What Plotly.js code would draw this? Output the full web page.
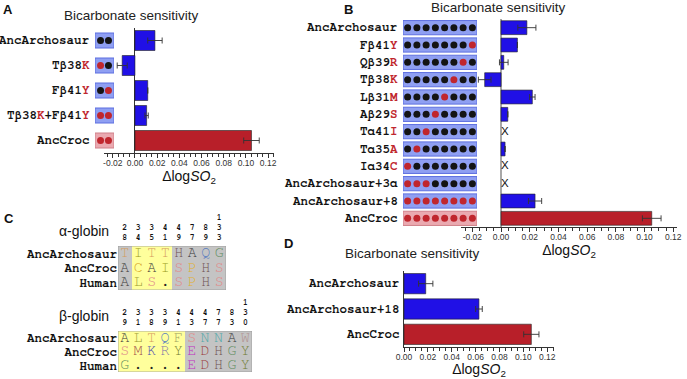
<!DOCTYPE html>
<html>
<head>
<meta charset="utf-8">
<script src="https://cdn.plot.ly/plotly-3.0.1.min.js"></script>
<style>html,body{margin:0;padding:0;background:#fff;}#chart{width:687px;height:379px;}</style>
</head>
<body>
<div id="chart"></div>
<script>
// ---------------- DATA ----------------
// Panel A
const aLabels = ['AncArchosaur', 'Tβ38[K]', 'Fβ41[Y]', 'Tβ38[K]+Fβ41[Y]', 'AncCroc'];
const aValues = [0.018, -0.0115, 0.0115, 0.0105, 0.105];
const aErrors = [0.0065, 0.0045, null, 0.0015, 0.007];
const aDots   = [[0, 0], [1, 0], [0, 1], [1, 1], [1, 1]];   // 1 = AncCroc residue (red)
// Panel B
const bLabels = ['AncArchosaur', 'Fβ41[Y]', 'Qβ39[R]', 'Tβ38[K]', 'Lβ31[M]', 'Aβ29[S]',
                 'Tα41[I]', 'Tα35[A]', 'Iα34[C]', 'AncArchosaur+3α', 'AncArchosaur+8', 'AncCroc'];
const bValues = [0.018, 0.0114, 0.0019, -0.0114, 0.0218, 0.0047, null, 0.0028, null, null, 0.0237, 0.105];
const bErrors = [0.0063, null, 0.003, 0.0044, 0.0019, null, null, null, null, null, 0.0046, 0.0065];
const bDots = [
  [0,0,0,0,0,0,0,0],
  [0,0,0,0,0,0,0,1],
  [0,0,0,0,0,0,1,0],
  [0,0,0,0,0,1,0,0],
  [0,0,0,0,1,0,0,0],
  [0,0,0,1,0,0,0,0],
  [0,0,1,0,0,0,0,0],
  [0,1,0,0,0,0,0,0],
  [1,0,0,0,0,0,0,0],
  [1,1,1,0,0,0,0,0],
  [1,1,1,1,1,1,1,1],
  [1,1,1,1,1,1,1,1]
];
// Panel D
const dLabels = ['AncArchosaur', 'AncArchosaur+18', 'AncCroc'];
const dValues = [0.0182, 0.0628, 0.1067];
const dErrors = [0.006, 0.0028, 0.0064];
// Axis ticks
const abTickValues = [-0.02, 0, 0.02, 0.04, 0.06, 0.08, 0.10, 0.12];
const abTickLabels = ['-0.02', '0.00', '0.02', '0.04', '0.06', '0.08', '0.10', '0.12'];
const dTickValues = [0, 0.02, 0.04, 0.06, 0.08, 0.10, 0.12];
const dTickLabels = ['0.00', '0.02', '0.04', '0.06', '0.08', '0.10', '0.12'];
// Panel C
const seqRows = ['AncArchosaur', 'AncCroc', 'Human'];
const alphaPositions = [28, 34, 35, 41, 49, 77, 89, 133];
const alphaSeqs = ['TITTHAQG', 'ACAISPHS', 'ALS.SPHS'];
const alphaYellow = [0, 1, 1, 1, 0, 0, 0, 0];
const betaPositions = [29, 31, 38, 39, 41, 43, 47, 77, 83, 130];
const betaSeqs = ['ALTQFSNNAW', 'SMKRYEDHGY', 'G....EDHGY'];
const betaYellow = [1, 1, 1, 1, 1, 0, 0, 0, 0, 0];

// ---------------- STYLE ----------------
const W = 687, H = 379;
const px = v => v / W;
const py = v => 1 - v / H;
const BLUE = '#2010e6', RED = '#b81f29', DOTRED = '#c0262d', DOTBLACK = '#141414';
const BOXBLUE = '#8f9ff2', BOXBLUELINE = '#5d6fe0', BOXPINK = '#eaa9b0', BOXPINKLINE = '#d08089';
const MONO = 'Nimbus Mono PS, Nimbus Mono L, FreeMono, Courier, Liberation Mono, monospace';
const SANS = 'Liberation Sans, Arial, Helvetica, sans-serif';
const resColor = {
  T: '#d49a5c', I: '#9a9a20', H: '#6e5050', A: '#3a3a3a', Q: '#5b7fc0', G: '#5a8a5a',
  C: '#d4a020', S: '#e08a8a', P: '#e0b030', L: '#9a9a30', F: '#a0a060', N: '#50a8a8',
  W: '#b09090', M: '#a04848', K: '#5050b0', R: '#7a70a8', Y: '#6f7a30', E: '#c030c0',
  D: '#9a3a3a', '.': '#222222'
};
const isCroc = l => l === 'AncCroc';
const labelHTML = s => '<b>' + s.replace(/\[(.*?)\]/g, '<span style="color:' + DOTRED + '">$1</span>') + '</b>';

const traces = [];
const shapes = [];
const annotations = [];

function barTrace(labels, values, errors, xa, ya) {
  return {
    type: 'bar', orientation: 'h', xaxis: xa, yaxis: ya,
    y: labels.map((_, i) => i), x: values,
    marker: { color: labels.map(l => isCroc(l) ? RED : BLUE), line: { color: '#222', width: 0.6 } },
    error_x: { type: 'data', array: errors, symmetric: true, color: '#333', thickness: 0.9, width: 3 },
    hoverinfo: 'skip'
  };
}
function dotTrace(dots, xa, ya) {
  const xs = [], ys = [], cs = [];
  dots.forEach((row, i) => row.forEach((v, j) => { xs.push(j + 1); ys.push(i); cs.push(v ? DOTRED : DOTBLACK); }));
  return { type: 'scatter', mode: 'markers', xaxis: xa, yaxis: ya, x: xs, y: ys,
           marker: { color: cs, size: 7, line: { width: 0 } }, hoverinfo: 'skip', cliponaxis: false };
}
function boxShapes(labels, xa, ya, x0, x1, half) {
  labels.forEach((l, i) => shapes.push({
    type: 'rect', xref: xa, yref: ya, x0: x0, x1: x1, y0: i - half, y1: i + half, layer: 'below',
    fillcolor: isCroc(l) ? BOXPINK : BOXBLUE, line: { color: isCroc(l) ? BOXPINKLINE : BOXBLUELINE, width: 1 }
  }));
}
function rowLabels(labels, xRight, ya) {
  labels.forEach((l, i) => annotations.push({
    xref: 'paper', yref: ya, x: px(xRight), y: i, xanchor: 'right', yanchor: 'middle',
    text: labelHTML(l), showarrow: false, font: { family: MONO, size: 12.5, color: '#111' }
  }));
}

// Panel A
traces.push(barTrace(aLabels, aValues, aErrors, 'x', 'y'));
traces.push(dotTrace(aDots, 'x4', 'y'));
boxShapes(aLabels, 'x4', 'y', 0.3, 2.7, 0.3);
rowLabels(aLabels, 92, 'y');
// Panel B
traces.push(barTrace(bLabels, bValues, bErrors, 'x2', 'y2'));
traces.push(dotTrace(bDots, 'x5', 'y2'));
boxShapes(bLabels, 'x5', 'y2', 0.5, 8.5, 0.41);
rowLabels(bLabels, 400, 'y2');
const missing = bValues.map((v, i) => v === null ? i : -1).filter(i => i >= 0);
traces.push({
  type: 'scatter', mode: 'text', xaxis: 'x2', yaxis: 'y2',
  x: missing.map(() => 0), y: missing, text: missing.map(() => 'X'), textposition: 'middle right',
  textfont: { family: SANS, size: 11.5, color: '#111' }, hoverinfo: 'skip', cliponaxis: false
});
// Panel D
traces.push(barTrace(dLabels, dValues, dErrors, 'x3', 'y3'));
rowLabels(dLabels, 402, 'y3');

// Panel C
function alignment(seqs, yellow, xa, ya) {
  traces.push({
    type: 'heatmap', xaxis: xa, yaxis: ya,
    x: yellow.map((_, j) => j), y: seqs.map((_, i) => i),
    z: seqs.map(() => yellow.slice()),
    zmin: 0, zmax: 1, showscale: false, hoverinfo: 'skip',
    colorscale: [[0, '#c4c4c4'], [0.5, '#c4c4c4'], [0.5, '#ffff9c'], [1, '#ffff9c']]
  });
  const xs = [], ys = [], ts = [], cs = [];
  seqs.forEach((s, i) => s.split('').forEach((c, j) => { xs.push(j); ys.push(i); ts.push(c); cs.push(resColor[c] || '#333'); }));
  traces.push({
    type: 'scatter', mode: 'text', xaxis: xa, yaxis: ya, x: xs, y: ys, text: ts,
    textposition: 'middle center', textfont: { family: MONO, size: 15, color: cs }, hoverinfo: 'skip'
  });
  shapes.push({ type: 'rect', xref: xa, yref: ya, x0: -0.5, x1: yellow.length - 0.5, y0: -0.5, y1: seqs.length - 0.5,
                line: { color: '#9a9a9a', width: 0.8 }, layer: 'above' });
}
alignment(alphaSeqs, alphaYellow, 'x6', 'y6');
alignment(betaSeqs, betaYellow, 'x7', 'y7');

// ---------------- AXES ----------------
const valueAxis = (domain, range, anchor, zcol, zw, tv, tt) => ({
  domain: domain, range: range, anchor: anchor, showgrid: false,
  showline: true, linecolor: '#333', linewidth: 1,
  zeroline: zcol !== null, zerolinecolor: zcol || '#333', zerolinewidth: zw || 1,
  ticks: 'outside', ticklen: 4, tickwidth: 1, tickcolor: '#333',
  tickmode: 'array', tickvals: tv, ticktext: tt, tickangle: 0, ticklabelstandoff: -2,
  minor: { tickmode: 'linear', tick0: 0, dtick: 0.005, ticks: 'outside', ticklen: 2.5, tickcolor: '#333', tickwidth: 1, showgrid: false },
  tickfont: { family: SANS, size: 8.5, color: '#333' },
  title: { text: 'Δlog<i>SO</i><sub>2</sub>', font: { family: SANS, size: 14, color: '#111' }, standoff: 1 },
  fixedrange: true
});
const catAxis = (domain, n, anchor, line) => ({
  domain: domain, range: [n - 0.5, -0.5], anchor: anchor, showticklabels: false, ticks: '',
  showgrid: false, zeroline: false, showline: !!line, linecolor: '#333', linewidth: 1, fixedrange: true
});
const hidden = (domain, range, anchor) => ({ domain: domain, range: range, anchor: anchor, visible: false, fixedrange: true });
const seqXAxis = (domain, positions, anchor) => ({
  domain: domain, range: [-0.5, positions.length - 0.5], anchor: anchor, side: 'top',
  tickvals: positions.map((_, j) => j), ticktext: positions.map(p => String(p).split('').join('<br>')),
  tickfont: { family: MONO, size: 8, color: '#111', weight: 'bold' }, ticks: '', ticklen: 0,
  ticklabelstandoff: 3, showgrid: false, zeroline: false, showline: false, fixedrange: true
});
const seqYAxis = (domain, anchor) => ({
  domain: domain, range: [2.5, -0.5], anchor: anchor,
  tickvals: [0, 1, 2], ticktext: seqRows.map(r => '<b>' + r + '</b>'),
  tickfont: { family: MONO, size: 12.5, color: '#111' }, ticks: '', ticklen: 0, ticklabelstandoff: 0,
  showgrid: false, zeroline: false, showline: false, fixedrange: true
});

const layout = {
  width: W, height: H, margin: { l: 0, r: 0, t: 0, b: 0 },
  paper_bgcolor: '#fff', plot_bgcolor: 'rgba(0,0,0,0)', showlegend: false, bargap: 0.2,
  xaxis:  valueAxis([px(104), px(274)], [-0.0279, 0.1253], 'y', '#333', 1, abTickValues, abTickLabels),
  yaxis:  catAxis([py(153), py(28)], aLabels.length, 'x'),
  xaxis2: valueAxis([px(461), px(677)], [-0.0279, 0.1226], 'y2', '#a8a8a8', 2, abTickValues, abTickLabels),
  yaxis2: catAxis([py(227), py(19)], bLabels.length, 'x2'),
  xaxis3: valueAxis([px(404), px(554)], [0, 0.1257], 'y3', null, 1, dTickValues, dTickLabels),
  yaxis3: catAxis([py(347), py(271)], dLabels.length, 'x3', true),
  xaxis4: hidden([px(95), px(114)], [0.3, 2.7], 'y'),
  xaxis5: hidden([px(403), px(477)], [0.5, 8.5], 'y2'),
  xaxis6: seqXAxis([px(118), px(226)], alphaPositions, 'y6'),
  yaxis6: seqYAxis([py(290), py(246)], 'x6'),
  xaxis7: seqXAxis([px(118), px(252)], betaPositions, 'y7'),
  yaxis7: seqYAxis([py(372), py(331)], 'x7'),
  shapes: shapes,
  annotations: annotations.concat([
    { text: '<b>A</b>', x: px(8), y: py(9) },
    { text: '<b>B</b>', x: px(348), y: py(9) },
    { text: '<b>C</b>', x: px(9), y: py(218) },
    { text: '<b>D</b>', x: px(288), y: py(243) }
  ].map(a => Object.assign({ xref: 'paper', yref: 'paper', showarrow: false, xanchor: 'center', yanchor: 'middle',
                             font: { family: SANS, size: 13, color: '#111' } }, a)))
  .concat([
    { text: 'Bicarbonate sensitivity', x: px(131), y: py(15) },
    { text: 'Bicarbonate sensitivity', x: px(499), y: py(8) },
    { text: 'Bicarbonate sensitivity', x: px(412), y: py(253) }
  ].map(a => Object.assign({ xref: 'paper', yref: 'paper', showarrow: false, xanchor: 'center', yanchor: 'middle',
                             font: { family: SANS, size: 13.5, color: '#222' } }, a)))
  .concat([
    { text: 'α-globin', x: px(111), y: py(231) },
    { text: 'β-globin', x: px(111), y: py(316) }
  ].map(a => Object.assign({ xref: 'paper', yref: 'paper', showarrow: false, xanchor: 'right', yanchor: 'middle',
                             font: { family: SANS, size: 14, color: '#111' } }, a)))
};

Plotly.newPlot('chart', traces, layout, { staticPlot: true, displayModeBar: false });
</script>
</body>
</html>
